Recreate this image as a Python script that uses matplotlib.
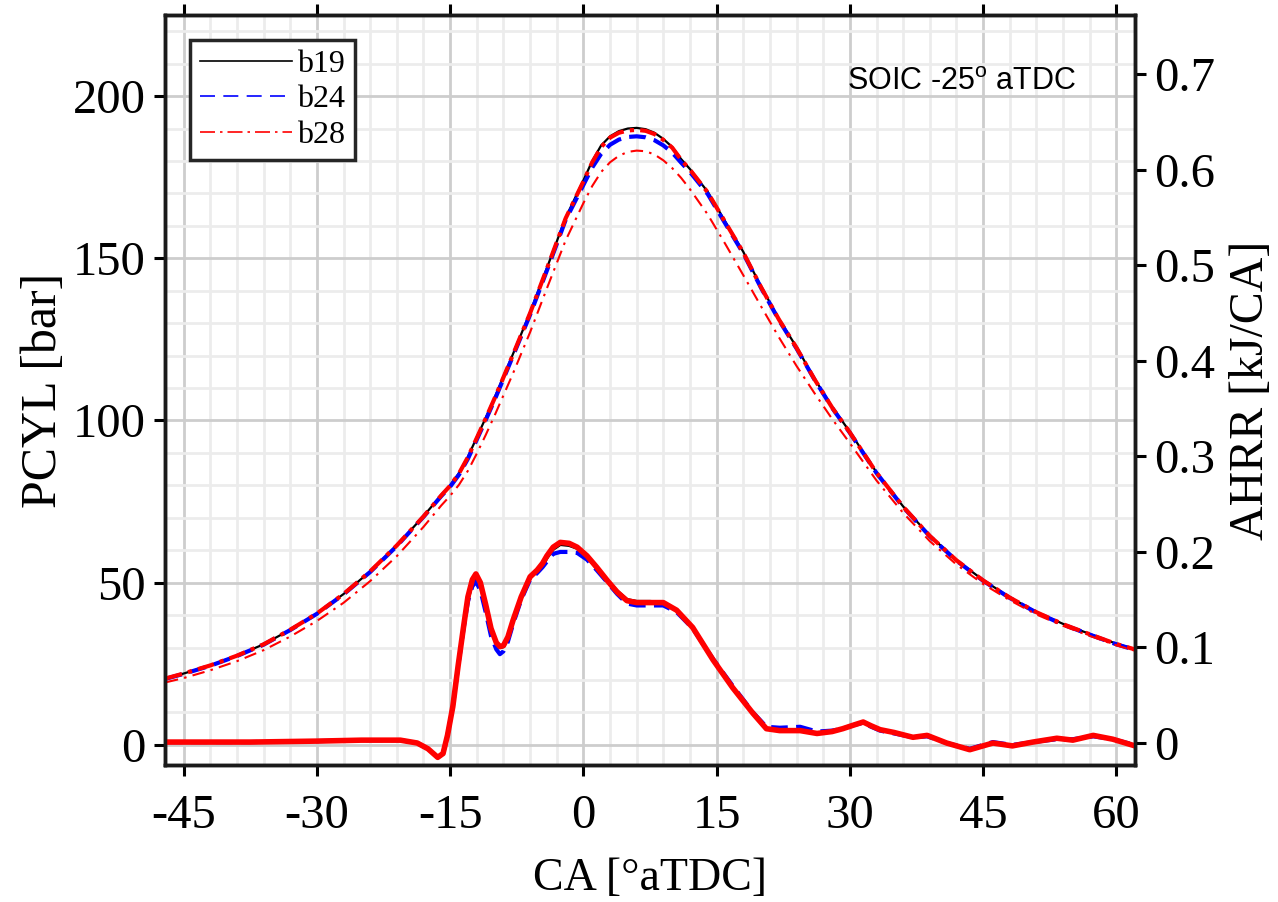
import matplotlib.pyplot as plt
from matplotlib.ticker import MultipleLocator, FuncFormatter

plt.rcParams['font.family'] = ['Liberation Serif', 'DejaVu Serif']
plt.rcParams['mathtext.fontset'] = 'custom'
plt.rcParams['mathtext.rm'] = 'Liberation Sans'
plt.rcParams['axes.unicode_minus'] = False

# crank angle for the pressure traces [deg aTDC]
ca_p = [-47, -45, -42, -39, -36, -33, -30, -27, -24, -21, -18, -16, -15, -14,
        -13, -12, -11, -10, -8, -6, -4, -2, 0, 1, 2, 3, 4, 5, 6, 7, 8, 9, 10,
        11, 12, 14, 16, 18, 20, 22, 24, 26, 28, 30, 33, 36, 39, 42, 45, 48,
        51, 54, 57, 60, 62]

pcyl_b19 = [20.5, 22, 24.5, 27.5, 31, 35.5, 40.5, 46.5, 53.5, 61.5, 70.5, 77,
            80, 83.8, 88.8, 94.8, 100.8, 107, 120, 133.3, 147.8, 162.5, 174,
            180, 184.8, 187.6, 189.2, 190, 190.2, 189.8, 188.7, 186.8, 184.3,
            180.6, 177.5, 170.5, 161.2, 152, 141.3, 131.4, 122.6, 113, 104.2,
            96.5, 84, 73.5, 64.5, 57, 50.8, 45.5, 41, 37.3, 34.2, 31.2, 29.6]

pcyl_b24 = [20.4, 21.9, 24.4, 27.4, 30.9, 35.4, 40.4, 46.4, 53.3, 61.3, 70.3,
            76.7, 79.6, 83.3, 88.2, 94.1, 100.1, 106.3, 119.4, 132.6, 147,
            161.8, 172.6, 178, 182.2, 185, 186.6, 187.4, 187.6, 187.3, 186.4,
            184.8, 182.6, 179.5, 176.6, 169.8, 160.6, 151.5, 140.9, 131, 122.2,
            112.7, 103.9, 96.2, 83.8, 73.3, 64.3, 56.8, 50.6, 45.3, 40.8, 37.1,
            34, 31, 29.4]

pcyl_b28 = [20.5, 22, 24.5, 27.5, 31, 35.5, 40.5, 46.5, 53.5, 61.5, 70.4, 76.9,
            79.9, 83.7, 88.7, 94.6, 100.6, 106.8, 119.8, 133.1, 147.6, 162.3,
            173.7, 179.6, 184.3, 187.2, 188.7, 189.4, 189.6, 189.3, 188.3,
            186.5, 184.1, 180.4, 177.3, 170.3, 161, 151.8, 141.1, 131.2, 122.4,
            112.8, 104, 96.3, 83.9, 73.4, 64.4, 56.9, 50.7, 45.4, 40.9, 37.2,
            34.1, 31.1, 29.5]

pcyl_b28_low = [19.3, 20.6, 23, 25.8, 29.2, 33.4, 38.2, 43.8, 50.5, 58.2, 67.2,
                73.8, 76.8, 80.2, 84.5, 89.8, 95.5, 101.5, 114, 127.2, 141.5,
                155.5, 167, 172.3, 176.6, 179.6, 181.6, 182.8, 183.2, 183, 182,
                180.2, 177.8, 174.8, 171.3, 163.5, 154.3, 144.8, 135.2, 125.7,
                116.8, 108.5, 100.5, 93, 81.5, 71.5, 62.8, 55.6, 49.6, 44.6,
                40.2, 36.7, 33.6, 30.7, 29.1]

# crank angle for the heat release traces
ca_h = [-47, -42, -37.5, -30, -25, -20.6, -18.7, -17.5, -16.4, -15.8, -15.3,
        -14.7, -14.1, -13.5, -13.0, -12.5, -12.1, -11.6, -11.0, -10.4, -9.8,
        -9.4, -9.0, -8.5, -7.9, -7.0, -6.0, -5.2, -4.6, -4.1, -3.4, -2.6,
        -1.6, -0.7, 0.4, 1.5, 2.7, 3.8, 4.9, 6.0, 7.5, 9.0, 10.5, 12.3, 14.6,
        16.8, 19.1, 20.6, 22.1, 24.4, 26.3, 28.0, 29.2, 30.5, 31.5, 32.4,
        33.4, 35.0, 37.1, 38.7, 40.9, 43.5, 46.1, 48.3, 50.6, 53.3, 55.1,
        57.4, 59.6, 62.1]

hrr_b19 = [0.001, 0.001, 0.001, 0.002, 0.003, 0.003, 0.0, -0.006, -0.015,
           -0.011, 0.008, 0.038, 0.080, 0.119, 0.150, 0.168, 0.174, 0.166,
           0.143, 0.119, 0.104, 0.100, 0.101, 0.110, 0.128, 0.152, 0.173,
           0.180, 0.186, 0.194, 0.203, 0.208, 0.207, 0.204, 0.195, 0.183,
           0.170, 0.159, 0.150, 0.148, 0.148, 0.147, 0.139, 0.121, 0.087,
           0.058, 0.031, 0.015, 0.013, 0.013, 0.010, 0.012, 0.015, 0.019,
           0.022, 0.018, 0.014, 0.011, 0.006, 0.008, 0.000, -0.007, 0.000,
           -0.003, 0.001, 0.005, 0.003, 0.008, 0.004, -0.003]

hrr_b24 = [0.001, 0.001, 0.001, 0.002, 0.003, 0.003, 0.0, -0.006, -0.015,
           -0.011, 0.008, 0.038, 0.080, 0.119, 0.148, 0.164, 0.169, 0.160,
           0.137, 0.112, 0.098, 0.093, 0.096, 0.106, 0.125, 0.150, 0.171,
           0.178, 0.184, 0.190, 0.198, 0.200, 0.200, 0.199, 0.192, 0.181,
           0.168, 0.156, 0.146, 0.144, 0.144, 0.144, 0.137, 0.120, 0.088,
           0.060, 0.032, 0.017, 0.016, 0.017, 0.012, 0.013, 0.015, 0.019,
           0.021, 0.017, 0.013, 0.010, 0.006, 0.007, 0.000, -0.006, 0.001,
           -0.002, 0.001, 0.004, 0.004, 0.007, 0.004, -0.002]

hrr_b28 = [0.001, 0.001, 0.001, 0.002, 0.003, 0.003, 0.0, -0.006, -0.015,
           -0.011, 0.008, 0.038, 0.081, 0.121, 0.153, 0.171, 0.177, 0.168,
           0.145, 0.120, 0.105, 0.101, 0.102, 0.111, 0.129, 0.153, 0.174,
           0.181, 0.188, 0.196, 0.205, 0.210, 0.209, 0.205, 0.196, 0.184,
           0.170, 0.158, 0.149, 0.147, 0.147, 0.147, 0.139, 0.121, 0.087,
           0.058, 0.031, 0.015, 0.013, 0.013, 0.010, 0.012, 0.015, 0.019,
           0.022, 0.018, 0.014, 0.011, 0.006, 0.008, 0.000, -0.007, 0.000,
           -0.003, 0.001, 0.005, 0.003, 0.008, 0.004, -0.003]

fig = plt.figure(figsize=(12.78, 9.02), dpi=100)
ax = fig.add_axes([165 / 1278, 137 / 902, 970 / 1278, 750 / 902])
ax2 = ax.twinx()

dash = (0, (4, 2))
dashdot = (0, (4, 1.5, 1, 1.5))

ax.plot(ca_p, pcyl_b19, color='black', lw=1.6, zorder=3)
ax.plot(ca_p, pcyl_b24, color='blue', lw=3, ls=dash, zorder=3)
ax.plot(ca_p, pcyl_b28, color='red', lw=3, ls=dashdot, zorder=3)
ax.plot(ca_p, pcyl_b28_low, color='red', lw=1.5, ls=(0, (6, 3, 1.2, 3)), zorder=3)

ax2.plot(ca_h, hrr_b19, color='black', lw=2.5)
ax2.plot(ca_h, hrr_b24, color='blue', lw=3, ls=dash)
ax2.plot(ca_h, hrr_b28, color='red', lw=4)

ax.set_xlim(-47.1, 62.1)
ax.set_ylim(-6.2, 225)
ax2.set_ylim(-0.023, 0.762)

ax.xaxis.set_major_locator(MultipleLocator(15))
ax.xaxis.set_minor_locator(MultipleLocator(3))
ax.yaxis.set_major_locator(MultipleLocator(50))
ax.yaxis.set_minor_locator(MultipleLocator(10))
ax2.yaxis.set_major_locator(MultipleLocator(0.1))
ax2.yaxis.set_major_formatter(FuncFormatter(lambda v, p: f'{v:.1f}' if abs(v) > 1e-9 else '0'))

ax.grid(which='major', color='#cdcdcd', lw=2)
ax.grid(which='minor', color='#ececec', lw=2)
ax.set_axisbelow(True)

ax.tick_params(which='major', direction='out', length=8, width=2.2,
               labelsize=35, top=True, pad=6)
ax.tick_params(axis='x', which='major', pad=13)
ax.tick_params(which='minor', length=0)
ax2.tick_params(which='major', direction='out', length=8, width=2.2,
                labelsize=35, pad=6)
for a in (ax, ax2):
    for s in a.spines.values():
        s.set_linewidth(2.5)
        s.set_color('#1a1a1a')

ax.set_xlabel('CA [°aTDC]', fontsize=33, labelpad=14)
ax.set_ylabel('PCYL [bar]', fontsize=36, labelpad=4)
ax2.set_ylabel('AHRR [kJ/CA]', fontsize=34.5, labelpad=10)

ax2.text(0.821, 0.911, r'SOIC -25$^{\mathrm{o}}$ aTDC', transform=ax2.transAxes,
         ha='center', va='center', fontsize=22, family='Liberation Sans')

h24, = ax.plot([], [], color='blue', lw=1.2, ls=(0, (9, 5)))
h28, = ax.plot([], [], color='red', lw=1.2, ls=(0, (9, 3, 1.5, 3)))
h19, = ax.plot([], [], color='black', lw=1.2)
leg = ax2.legend([h19, h24, h28], ['b19', 'b24', 'b28'], loc='upper left',
                 bbox_to_anchor=(0.0258, 0.967), borderaxespad=0, fontsize=23,
                 handlelength=2.9, handletextpad=0.15, labelspacing=0.2,
                 borderpad=0.3, fancybox=False, framealpha=1)
leg.get_frame().set_edgecolor('#262626')
leg.get_frame().set_linewidth(2.5)

fig.savefig('out.png', dpi=100)
